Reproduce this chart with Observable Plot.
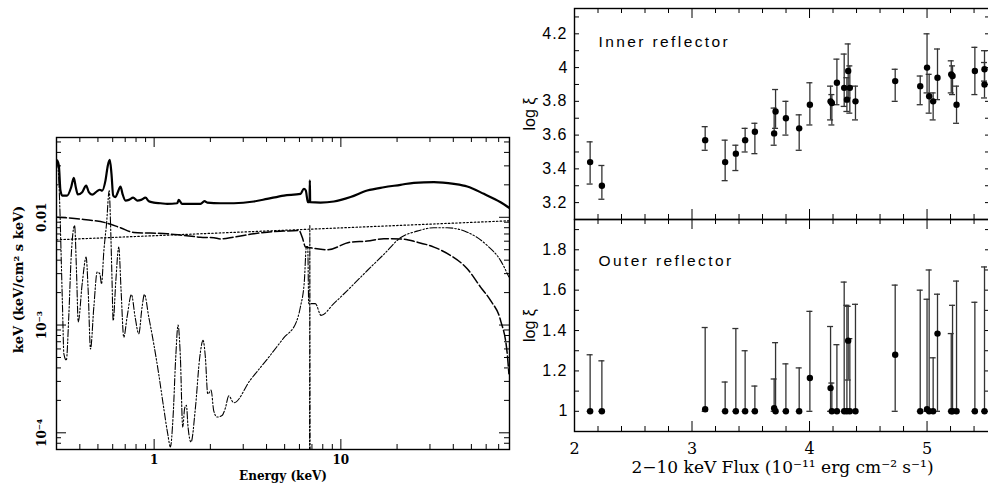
<!DOCTYPE html>
<html><head><meta charset="utf-8">
<script src="https://cdn.jsdelivr.net/npm/d3@7"></script>
<script src="https://cdn.jsdelivr.net/npm/@observablehq/plot@0.6"></script>
<style>
html,body{margin:0;padding:0;background:#fff;overflow:hidden;}
#wrap{position:relative;width:988px;height:485px;overflow:hidden;background:#fff;}
#wrap svg{position:absolute;overflow:visible;background:transparent;}
</style></head><body><div id="wrap"></div>
<script>
// ---------- Left panel: model spectrum components (Energy keV, keV^2 flux) ----------
const totalE = [0.3025,0.3088,0.315,0.322,0.342,0.3594,0.3713,0.3806,0.3902,0.4117,0.4325,0.4469,0.4657,0.4954,0.512,0.527,0.549,0.565,0.579,0.591,0.6035,0.621,0.639,0.6605,0.677,0.7025,0.732,0.772,0.811,0.852,0.899,0.937,0.996,1.082,1.175,1.328,1.356,1.413,1.772,1.861,1.923,2.267,2.673,3.42,4.03,4.95,6.08,6.34,6.49,6.66,6.795,6.82,6.85,7.78,9.17,11.27,13.84,17.0,20.87,24.6,31.5,40.3,47.5,58.3,71.7,80];
const totalF = [0.0337,0.0303,0.0177,0.0159,0.0159,0.0190,0.0232,0.0190,0.0163,0.0171,0.0197,0.0171,0.0162,0.0175,0.0180,0.0177,0.0220,0.0303,0.0341,0.0253,0.0159,0.0154,0.0171,0.0193,0.0165,0.0143,0.0145,0.0152,0.0143,0.0145,0.0152,0.0141,0.0137,0.0135,0.0133,0.0135,0.0145,0.0133,0.0133,0.0141,0.0137,0.0135,0.0135,0.0140,0.0148,0.0159,0.0165,0.0184,0.0177,0.0138,0.0138,0.0220,0.0138,0.0137,0.0140,0.0154,0.0177,0.0190,0.0200,0.0209,0.0212,0.0204,0.0193,0.0165,0.0138,0.0122];

const innerReflE = [0.3,0.42,0.56,0.66,0.78,0.956,1.175,1.44,1.77,2.09,2.27,2.67,3.42,4.03,4.95,5.96,6.21,6.47,6.88,8.45,11.27,13.84,17.0,20.87,25.64,31.5,38.7,47.5,56.0,63.3,71.7,77.8,79.4];
const innerReflF = [0.01003,0.00954,0.00882,0.00799,0.00723,0.00713,0.00703,0.00678,0.00654,0.00645,0.0063,0.00654,0.00703,0.00728,0.00744,0.00755,0.00654,0.00529,0.00521,0.00499,0.00588,0.00601,0.00632,0.0063,0.00588,0.00529,0.00442,0.00333,0.00225,0.00169,0.0011,0.000542,0.000353];

const powerLawE = [0.3, 6.08, 80];
const powerLawF = [0.00618, 0.00769, 0.00928];

const outerReflE = [0.3025,0.3074,0.3126,0.3178,0.3231,0.3286,0.3385,0.3495,0.3594,0.3749,0.3843,0.3922,0.4117,0.4325,0.4433,0.4563,0.4754,0.4954,0.512,0.5226,0.5381,0.556,0.5746,0.5841,0.5938,0.6036,0.6237,0.6464,0.6653,0.6876,0.7165,0.7558,0.7907,0.8272,0.8619,0.8871,0.9357,0.9951,1.0583,1.1254,1.1823,1.2219,1.2628,1.305,1.3431,1.3823,1.4225,1.4581,1.4884,1.5193,1.5765,1.6633,1.7545,1.8282,1.8816,1.9365,1.9851,2.018,2.0854,2.1729,2.311,2.4081,2.5094,2.669,3.2776,4.0249,4.9426,5.7781,6.0705,6.3776,6.5369,6.6453,6.7276,7.3013,7.8301,9.1573,11.247,13.813,16.965,20.836,25.59,31.43,37.04,47.45,60.74,71.59,79.33];
const outerReflF = [0.0332,0.0253,0.0124,0.0043,0.00147,0.00054,0.00047,0.00127,0.00427,0.00839,0.00299,0.00107,0.00241,0.00427,0.00209,0.0006,0.00147,0.0031,0.00299,0.00241,0.00492,0.0087,0.0177,0.0087,0.00299,0.0011,0.00259,0.00529,0.00209,0.00077,0.00119,0.00192,0.00119,0.00083,0.00147,0.00192,0.00119,0.00067,0.00035,0.00017,0.000098,0.000074,0.00014,0.0005,0.001,0.0005,0.000113,0.00017,0.00018,0.000113,0.000082,0.00017,0.0005,0.00072,0.0005,0.00023,0.00024,0.00025,0.00016,0.00014,0.000145,0.00017,0.00022,0.00019,0.00031,0.00048,0.00076,0.00107,0.00147,0.00259,0.00536,0.00536,0.00158,0.00158,0.00123,0.00158,0.00223,0.00319,0.00452,0.00645,0.00744,0.00799,0.00799,0.00728,0.00548,0.00398,0.0028];

const feLineE = [6.79, 6.82, 6.85];
const feLineF = [0.00002, 0.0084, 0.00002];

const energyTicks = [1, 10];
const fluxDensityTicks = [0.01, 0.001, 0.0001];
const fluxDensityLabels = ["0.01", "10\u207B\u00B3", "10\u207B\u2074"];

// ---------- Right panels: log xi vs 2-10 keV flux ----------
const innerFlux = [2.133,2.233,3.112,3.282,3.373,3.452,3.535,3.699,3.711,3.799,3.912,4.003,4.179,4.190,4.233,4.295,4.318,4.329,4.343,4.391,4.729,4.942,5.000,5.018,5.052,5.089,5.206,5.217,5.251,5.407,5.489,5.489];
const innerXi   = [3.44,3.30,3.57,3.44,3.49,3.57,3.62,3.61,3.74,3.70,3.64,3.78,3.80,3.79,3.91,3.88,3.81,3.98,3.88,3.80,3.92,3.89,4.00,3.83,3.80,3.94,3.96,3.95,3.78,3.98,3.99,3.90];
const innerLo   = [3.31,3.22,3.51,3.33,3.39,3.50,3.49,3.54,3.64,3.60,3.51,3.66,3.69,3.66,3.78,3.77,3.74,3.82,3.73,3.69,3.80,3.78,3.85,3.73,3.69,3.81,3.85,3.84,3.67,3.84,3.92,3.82];
const innerHi   = [3.56,3.42,3.65,3.57,3.54,3.64,3.67,3.76,3.87,3.80,3.72,3.91,3.89,3.84,4.05,4.08,3.94,4.14,4.01,3.89,3.99,3.95,4.20,3.96,3.85,4.11,4.04,4.01,3.89,4.12,4.10,4.03];

const outerFlux = [2.133,2.233,3.112,3.282,3.373,3.452,3.535,3.699,3.711,3.799,3.912,4.003,4.179,4.190,4.233,4.295,4.318,4.329,4.343,4.391,4.729,4.942,5.000,5.018,5.052,5.089,5.206,5.217,5.251,5.407,5.489];
const outerXi   = [1.00,1.00,1.01,1.00,1.00,1.00,1.00,1.015,1.00,1.00,1.00,1.165,1.115,1.00,1.00,1.00,1.00,1.35,1.00,1.00,1.28,1.00,1.01,1.00,1.00,1.385,1.00,1.00,1.00,1.00,1.00];
const outerLo   = [1.00,1.00,1.00,1.00,1.00,1.00,1.00,1.00,1.00,1.00,1.00,1.00,1.00,1.00,1.00,1.00,1.00,1.155,1.00,1.00,1.00,1.00,1.00,1.00,1.00,1.00,1.00,1.00,1.00,1.00,1.00];
const outerHi   = [1.28,1.25,1.415,1.145,1.41,1.30,1.125,1.16,1.34,1.235,1.215,1.495,1.42,1.14,1.33,1.64,1.525,1.52,1.36,1.53,1.625,1.60,1.555,1.70,1.265,1.58,1.385,1.525,1.645,1.54,1.715];

const fluxTicks = [2, 3, 4, 5];
const innerTicks = [3.2, 3.4, 3.6, 3.8, 4, 4.2];
const outerTicks = [1, 1.2, 1.4, 1.6, 1.8];

// ---------- helpers ----------
const rows = (E, F) => E.map((e, i) => ({e, f: F[i]}));
const pts = (X, V, L, H) => X.map((x, i) => ({x, v: V[i], lo: L[i], hi: H[i]}));
function inwardTicks(xv, yv, fw, fh, len) {
  return [
    Plot.tickX(xv, {x: d => d, insetTop: fh - len, stroke: "#000", strokeWidth: 1}),
    Plot.tickX(xv, {x: d => d, insetBottom: fh - len, stroke: "#000", strokeWidth: 1}),
    Plot.tickY(yv, {y: d => d, insetRight: fw - len, stroke: "#000", strokeWidth: 1}),
    Plot.tickY(yv, {y: d => d, insetLeft: fw - len, stroke: "#000", strokeWidth: 1})
  ];
}
const wrap = document.getElementById("wrap");
function place(svg, left, top) { svg.style.left = left + "px"; svg.style.top = top + "px"; wrap.appendChild(svg); }
function spaceText(svg, re, ls) {
  svg.querySelectorAll("text").forEach(t => { if (re.test(t.textContent)) t.setAttribute("letter-spacing", ls); });
}

// ---------- left plot ----------
{
  const W = 520, H = 485, mt = 137, mr = 11, mb = 36, ml = 56;
  const fw = W - ml - mr, fh = H - mt - mb;
  const xMinor = [0.1, 1, 10].flatMap(b => d3.range(2, 10).map(k => +(k * b).toPrecision(3))).filter(v => v > 0.31 && v < 79);
  const yMinor = [1e-5, 1e-4, 1e-3, 1e-2].flatMap(b => d3.range(2, 10).map(k => +(k * b).toPrecision(3))).filter(v => v > 7.1e-5 && v < 0.054);
  const serif = "DejaVu Serif";
  const svg = Plot.plot({
    width: W, height: H, marginTop: mt, marginRight: mr, marginBottom: mb, marginLeft: ml,
    x: {type: "log", domain: [0.3, 80], axis: null},
    y: {type: "log", domain: [7e-5, 0.055], axis: null},
    style: {background: "transparent", overflow: "visible"},
    marks: [
      Plot.line(rows(powerLawE, powerLawF), {x: "e", y: "f", stroke: "#000", strokeWidth: 1.2, strokeDasharray: "1.5,2.2", clip: true}),
      Plot.line(rows(feLineE, feLineF), {x: "e", y: "f", stroke: "#000", strokeWidth: 1.1, strokeDasharray: "5,2,1.5,2,1.5,2", clip: true}),
      Plot.line(rows(outerReflE, outerReflF), {x: "e", y: "f", curve: "monotone-x", stroke: "#000", strokeWidth: 1.1, strokeDasharray: "7,2,1.5,2,1.5,2", clip: true}),
      Plot.line(rows(innerReflE, innerReflF), {x: "e", y: "f", curve: "monotone-x", stroke: "#000", strokeWidth: 1.5, strokeDasharray: "10,3", clip: true}),
      Plot.line(rows(totalE, totalF), {x: "e", y: "f", curve: "monotone-x", stroke: "#000", strokeWidth: 2.2, clip: true}),
      Plot.frame({stroke: "#000", strokeWidth: 1.4}),
      ...inwardTicks(energyTicks, fluxDensityTicks, fw, fh, 10),
      ...inwardTicks(xMinor, yMinor, fw, fh, 5),
      Plot.text(energyTicks, {x: d => d, text: d => String(d), frameAnchor: "bottom", dy: 11, lineAnchor: "middle", fontFamily: serif, fontSize: 12, fontWeight: "bold", fill: "#000"}),
      Plot.text(fluxDensityTicks, {y: d => d, text: (d, i) => fluxDensityLabels[i], frameAnchor: "left", dx: -14, rotate: -90, lineAnchor: "middle", textAnchor: "middle", fontFamily: serif, fontSize: 12, fontWeight: "bold", fill: "#000"}),
      Plot.text(["Energy (keV)"], {text: d => d, frameAnchor: "bottom", dy: 27, lineAnchor: "middle", fontFamily: serif, fontSize: 12, fontWeight: "bold", fill: "#000"}),
      Plot.text(["keV (keV/cm\u00B2 s keV)"], {text: d => d, frameAnchor: "left", dx: -38, dy: -14, rotate: -90, textAnchor: "middle", lineAnchor: "middle", fontFamily: serif, fontSize: 13, fontWeight: "bold", fill: "#000"})
    ]
  });
  place(svg, 0, 0);
}

// ---------- right plots ----------
const sans = "Liberation Sans";
const xMinorR = d3.range(11, 28).map(k => k / 5).filter(v => Math.abs(v - Math.round(v)) > 1e-6);
const xMajorR = [3, 4, 5];
function panel({height, mt, mb, yDomain, data, yTicks, yLabels, label, labelDy, xLabels}) {
  const W = 474, ml = 54, mr = 4;
  const fw = W - ml - mr, fh = height - mt - mb;
  const marks = [
    Plot.frame({stroke: "#000", strokeWidth: 1.4}),
    ...inwardTicks(xMajorR, [], fw, fh, 10),
    ...inwardTicks(xMinorR, yTicks, fw, fh, 5),
    Plot.ruleX(data, {x: "x", y1: "lo", y2: "hi", stroke: "#333", strokeWidth: 1.3}),
    Plot.ruleY(data, {y: "hi", x1: "x", x2: "x", insetLeft: -3, insetRight: -3, stroke: "#333", strokeWidth: 1.3}),
    Plot.ruleY(data, {y: "lo", x1: "x", x2: "x", insetLeft: -3, insetRight: -3, stroke: "#333", strokeWidth: 1.3}),
    Plot.dot(data, {x: "x", y: "v", r: 3.2, fill: "#000", stroke: "none"}),
    Plot.text(yLabels, {y: d => d, text: d => String(d), frameAnchor: "left", dx: -7, textAnchor: "end", lineAnchor: "middle", fontFamily: sans, fontSize: 16, fill: "#000"}),
    Plot.text(["log \u03BE"], {text: d => d, frameAnchor: "left", dx: -45, rotate: -90, textAnchor: "middle", lineAnchor: "middle", fontFamily: sans, fontSize: 16, fill: "#000"}),
    Plot.text([label], {text: d => d, frameAnchor: "top-left", dx: 24, dy: labelDy, textAnchor: "start", lineAnchor: "bottom", fontFamily: sans, fontSize: 15.5, fill: "#000"})
  ];
  if (xLabels) {
    marks.push(
      Plot.text(fluxTicks, {x: d => d, text: d => String(d), frameAnchor: "bottom", dy: 17, lineAnchor: "middle", fontFamily: "DejaVu Serif", fontSize: 16, fill: "#000"}),
      Plot.text(["2\u221210 keV Flux (10\u207B\u00B9\u00B9 erg cm\u207B\u00B2 s\u207B\u00B9)"], {text: d => d, frameAnchor: "bottom", dy: 36, lineAnchor: "middle", fontFamily: "DejaVu Serif", fontSize: 17, fill: "#000"})
    );
  }
  const svg = Plot.plot({
    width: W, height, marginTop: mt, marginBottom: mb, marginLeft: ml, marginRight: mr,
    x: {domain: [2, 5.54], axis: null},
    y: {domain: yDomain, axis: null},
    style: {background: "transparent", overflow: "visible"},
    marks
  });
  spaceText(svg, /reflector/, "2.4");
  spaceText(svg, /^\d\.\d$/, "1");
  return svg;
}
const topSvg = panel({
  height: 219, mt: 8, mb: 0, yDomain: [3.1, 4.35],
  data: pts(innerFlux, innerXi, innerLo, innerHi),
  yTicks: d3.range(32, 44).map(k => k / 10), yLabels: innerTicks,
  label: "Inner reflector", labelDy: 38, xLabels: false
});
const botSvg = panel({
  height: 266, mt: 0, mb: 54, yDomain: [0.9, 1.95],
  data: pts(outerFlux, outerXi, outerLo, outerHi),
  yTicks: d3.range(10, 20).map(k => k / 10), yLabels: outerTicks,
  label: "Outer reflector", labelDy: 46, xLabels: true
});
place(topSvg, 520, 0);
place(botSvg, 520, 219);
</script></body></html>
